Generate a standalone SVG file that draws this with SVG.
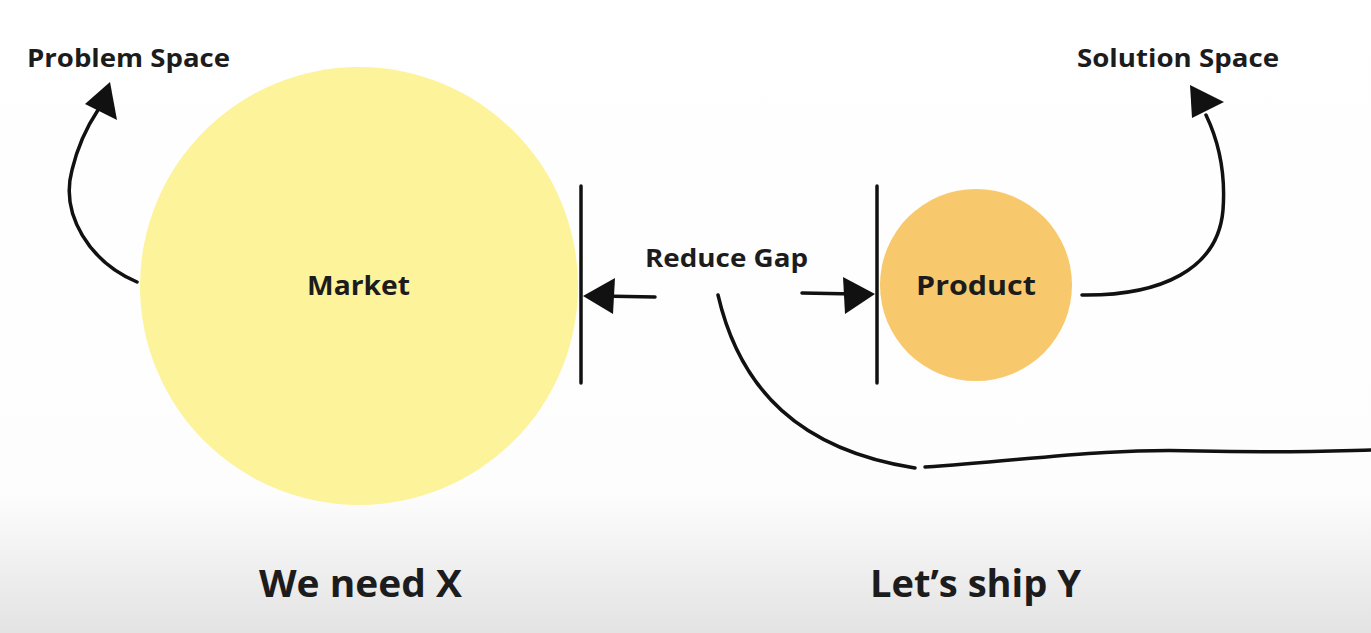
<svg xmlns="http://www.w3.org/2000/svg" width="1371" height="633" viewBox="0 0 1371 633">
<defs>
<linearGradient id="bg" x1="0" y1="0" x2="0" y2="1">
<stop offset="0" stop-color="#ffffff"/>
<stop offset="0.78" stop-color="#fdfdfd"/>
<stop offset="1" stop-color="#e3e3e3"/>
</linearGradient>
<style>
.t{font-family:"Open Sans","Liberation Sans",sans-serif;font-weight:700;fill:#1c1c1c}
.ln{fill:none;stroke:#111;stroke-width:3.5;stroke-linecap:round}
.hd{fill:#111}
</style>
</defs>
<rect x="0" y="0" width="1371" height="633" fill="url(#bg)"/>
<g id="market">
<circle cx="359" cy="286" r="219" fill="#fcf39a"/>
<text class="t" x="307" y="295" font-size="27" textLength="103" lengthAdjust="spacingAndGlyphs">Market</text>
</g>
<g id="product">
<circle cx="976" cy="285" r="96" fill="#f8c96c"/>
<text class="t" x="916" y="295" font-size="27" textLength="120" lengthAdjust="spacingAndGlyphs">Product</text>
</g>
<g id="problem-space">
<text class="t" x="27" y="67" font-size="25" textLength="203" lengthAdjust="spacingAndGlyphs">Problem Space</text>
</g>
<g id="solution-space">
<text class="t" x="1077" y="67" font-size="25" textLength="202" lengthAdjust="spacingAndGlyphs">Solution Space</text>
</g>
<g id="reduce-gap">
<text class="t" x="645" y="267" font-size="25" textLength="163" lengthAdjust="spacingAndGlyphs">Reduce Gap</text>
</g>
<g id="we-need-x">
<text class="t" x="259" y="597" font-size="37" textLength="203" lengthAdjust="spacingAndGlyphs">We need X</text>
</g>
<g id="lets-ship-y">
<text class="t" x="870" y="597" font-size="37" textLength="211" lengthAdjust="spacingAndGlyphs">Let’s ship Y</text>
</g>
<g id="connectors">
<line class="ln" x1="581" y1="186" x2="581" y2="383"/>
<line class="ln" x1="877" y1="186" x2="877" y2="383"/>
<path class="ln" d="M655,297 L600,296"/>
<polygon class="hd" points="583,296 615,278 613,314"/>
<path class="ln" d="M802,293 L855,294"/>
<polygon class="hd" points="875,294 843,277 845,314"/>
<path class="ln" d="M137,282 C90,262 60,215 72,170 C78,145 88,125 98,110"/>
<polygon class="hd" points="110,82 85,104 117,120"/>
<path class="ln" d="M1082,295 C1160,296 1218,270 1223,210 C1226,170 1218,140 1206,115"/>
<polygon class="hd" points="1190,85 1224,102 1192,118"/>
<path class="ln" d="M718,295 C740,390 800,450 915,468"/>
<path class="ln" d="M925,467 C1030,460 1100,448 1200,451 C1280,453 1330,451 1371,450"/>
</g>
</svg>
